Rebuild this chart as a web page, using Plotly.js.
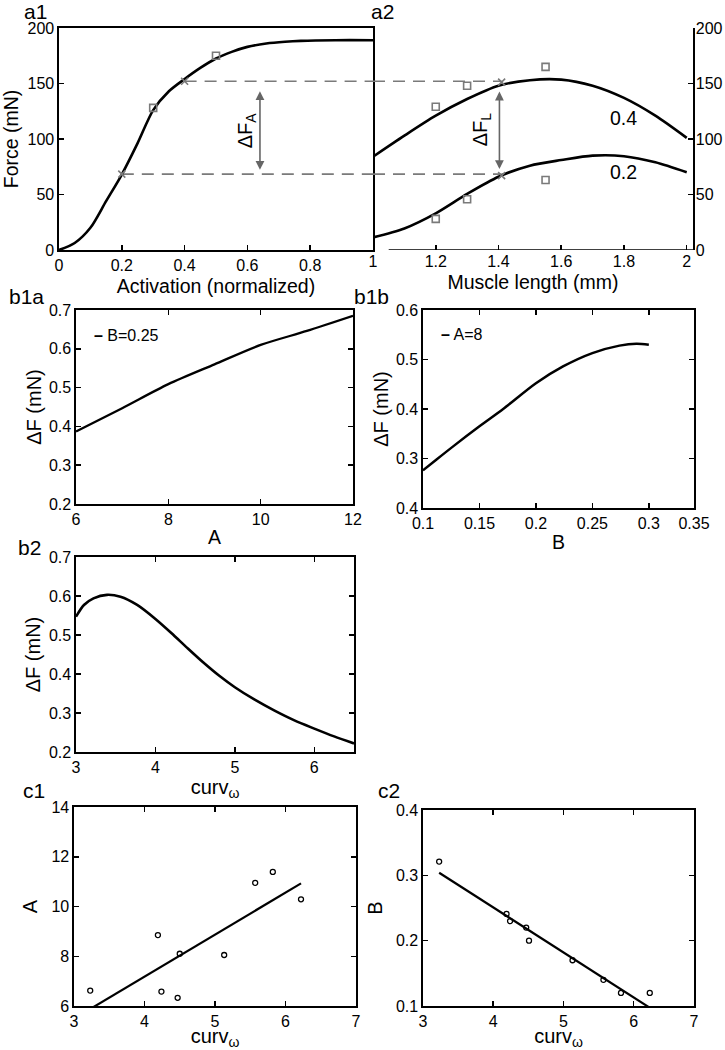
<!DOCTYPE html>
<html>
<head>
<meta charset="utf-8">
<script src="https://cdn.plot.ly/plotly-3.0.1.min.js"></script>
<style>html,body{margin:0;padding:0;background:#fff;}#chart{width:725px;height:1050px;}</style>
</head>
<body>
<div id="chart"></div>
<script>
// ---------- data ----------
// a1: force vs activation
const activation = [0,0.05,0.1,0.15,0.2,0.25,0.3,0.35,0.4,0.45,0.5,0.55,0.6,0.66,0.72,0.77,0.88,1];
const forceAct   = [0,6.3,20,44,68,96,126,143,154,164,172.5,178.5,183,186,187.6,188.4,189,189];
const actSquaresX = [0.3,0.5];
const actSquaresY = [128,175];
const actCrossX = [0.2,0.4];
const actCrossY = [68.4,152];
// a2: force vs muscle length for activation 0.4 and 0.2
const muscleLen = [1.0,1.1,1.2,1.3,1.4,1.5,1.6,1.7,1.8,1.9,2.0];
const force04   = [84,103,121,136,148,153,153.5,148,137,121,101];
const force02   = [11.3,19.4,33,50.5,66,76,81,85,84.5,79,70];
const lenSquaresX = [1.2,1.3,1.55];
const lenSquares04 = [129,148,165];
const lenSquares02 = [28,45.7,63];
const lenCrossX = [1.41,1.41];
const lenCrossY = [67,151.3];
const curveLabels = ['0.4','0.2'];
// b1a: dF vs A (B=0.25)
const paramA = [6,7,8,9,10,11,12];
const dF_A   = [0.387,0.447,0.509,0.56,0.61,0.646,0.685];
// b1b: dF vs B (A=8)
const paramB = [0.1,0.112,0.127,0.15,0.171,0.2,0.224,0.25,0.274,0.289,0.3];
const dF_B   = [0.276,0.298,0.325,0.365,0.40,0.452,0.486,0.513,0.528,0.532,0.530];
const b1bYTicks = [0.2,0.3,0.4,0.5,0.6];
const b1bYText  = ['0.4','0.3','0.4','0.5','0.6'];
const b1bXTicks = [0.1,0.15,0.2,0.25,0.3,0.34];
const b1bXText  = ['0.1','0.15','0.2','0.25','0.3','0.35'];
// b2: dF vs curvature
const curvW   = [3.0,3.1,3.22,3.39,3.56,3.77,4.0,4.2,4.4,4.6,4.8,5.0,5.25,5.5,5.75,6.0,6.25,6.5];
const dF_curv = [0.547,0.577,0.594,0.603,0.598,0.577,0.541,0.505,0.467,0.43,0.396,0.366,0.334,0.306,0.281,0.26,0.24,0.222];
// c1/c2: fitted A and B vs curvature
const curvPts = [3.23,4.19,4.24,4.47,4.50,5.13,5.57,5.82,6.22];
const A_pts   = [6.62,8.85,6.58,6.33,8.1,8.05,10.95,11.39,10.29];
const curvPtsB = [3.23,4.19,4.24,4.47,4.51,5.13,5.57,5.82,6.23];
const B_pts   = [0.321,0.241,0.230,0.220,0.200,0.170,0.140,0.120,0.120];
const fitX = [3.23,6.22];
const fitA = [5.88,10.93];
const fitB = [0.304,0.098];
const c2XTicks = [3,4,5,6,6.86];
const c2XText  = ['3','4','5','6','7'];

// ---------- layout helpers ----------
const W = 725, H = 1050;
const FONT = 'Liberation Sans, Arial, sans-serif';
const GRAY = '#7a7a7a';
function dx(a,b){return [a/W, b/W];}
function dy(t,b){return [1-b/H, 1-t/H];}
function axis(o){
  return Object.assign({
    showline:true, linecolor:'#000', linewidth:1.6,
    ticks:'inside', ticklen:5, tickwidth:1.5, tickcolor:'#000',
    showgrid:false, zeroline:false, fixedrange:true,
    tickfont:{family:FONT,size:16,color:'#000'}
  }, o);
}
function ttl(text, size, standoff){return {text:text, font:{family:FONT,size:size,color:'#000'}, standoff:standoff};}

const line = {color:'#000', width:2.6, shape:'spline', smoothing:0.8};
const dashLine = {color:GRAY,width:1.6,dash:'12px,8px'};
const sqMarker = {symbol:'square-open',size:7,color:GRAY,line:{width:1.6,color:GRAY}};
const xMarker = {symbol:'x-thin-open',size:7,color:GRAY,line:{width:1.6,color:GRAY}};
const circMarker = {symbol:'circle-open',size:5,color:'#000',line:{width:1.3,color:'#000'}};
const traces = [
  // a1
  {x:[actCrossX[0],1], y:[actCrossY[0],actCrossY[0]], xaxis:'x', yaxis:'y', mode:'lines', line:dashLine},
  {x:[actCrossX[1],1], y:[actCrossY[1],actCrossY[1]], xaxis:'x', yaxis:'y', mode:'lines', line:dashLine},
  {x:activation, y:forceAct, xaxis:'x', yaxis:'y', mode:'lines', line:line},
  {x:actSquaresX, y:actSquaresY, xaxis:'x', yaxis:'y', mode:'markers', marker:sqMarker},
  {x:actCrossX, y:actCrossY, xaxis:'x', yaxis:'y', mode:'markers', marker:xMarker},
  // a2
  {x:[1,lenCrossX[0]], y:[actCrossY[0],actCrossY[0]], xaxis:'x2', yaxis:'y2', mode:'lines', line:dashLine},
  {x:[1,lenCrossX[1]], y:[actCrossY[1],actCrossY[1]], xaxis:'x2', yaxis:'y2', mode:'lines', line:dashLine},
  {x:muscleLen, y:force04, xaxis:'x2', yaxis:'y2', mode:'lines', line:line, name:'0.4'},
  {x:muscleLen, y:force02, xaxis:'x2', yaxis:'y2', mode:'lines', line:line, name:'0.2'},
  {x:lenSquaresX.concat(lenSquaresX), y:lenSquares04.concat(lenSquares02), xaxis:'x2', yaxis:'y2', mode:'markers', marker:sqMarker},
  {x:lenCrossX, y:lenCrossY, xaxis:'x2', yaxis:'y2', mode:'markers', marker:xMarker},
  // b1a
  {x:paramA, y:dF_A, xaxis:'x3', yaxis:'y3', mode:'lines', line:{color:'#000',width:2.3,shape:'spline',smoothing:0.8}, name:'B=0.25'},
  // b1b
  {x:paramB, y:dF_B, xaxis:'x4', yaxis:'y4', mode:'lines', line:{color:'#000',width:2.5,shape:'spline',smoothing:0.8}, name:'A=8'},
  // b2
  {x:curvW, y:dF_curv, xaxis:'x5', yaxis:'y5', mode:'lines', line:line},
  // c1
  {x:fitX, y:fitA, xaxis:'x6', yaxis:'y6', mode:'lines', line:{color:'#000',width:2.2}},
  {x:curvPts, y:A_pts, xaxis:'x6', yaxis:'y6', mode:'markers', marker:circMarker},
  // c2
  {x:fitX, y:fitB, xaxis:'x7', yaxis:'y7', mode:'lines', line:{color:'#000',width:2.2}},
  {x:curvPtsB, y:B_pts, xaxis:'x7', yaxis:'y7', mode:'markers', marker:circMarker}
];

function panelLabel(text, px, py){
  return {text:text, xref:'paper', yref:'paper', x:px/W, y:1-py/H, xanchor:'left', yanchor:'middle', showarrow:false, font:{family:FONT,size:21,color:'#000'}};
}
function arrow(xr, yr, x, y0, y1){
  return {xref:xr, yref:yr, axref:xr, ayref:yr, x:x, y:y1, ax:x, ay:y0, text:'', showarrow:true, arrowside:'end+start', arrowhead:2, arrowsize:1.1, arrowwidth:1.6, arrowcolor:'#666', standoff:0, startstandoff:0};
}

const layout = {
  width:W, height:H, margin:{l:0,r:0,t:0,b:0}, showlegend:false,
  paper_bgcolor:'#fff', plot_bgcolor:'rgba(0,0,0,0)',
  font:{family:FONT,color:'#000'},
  // a1
  xaxis: axis({domain:dx(59,373), anchor:'y', range:[0,1], tickvals:[0,0.2,0.4,0.6,0.8], mirror:true, title:ttl('Activation (normalized)',19.5,6)}),
  yaxis: axis({domain:dy(28,250), anchor:'x', range:[0,200], tickvals:[0,50,100,150,200], mirror:true, title:ttl('Force (mN)',19.5,5)}),
  // a2
  xaxis2: axis({domain:dx(373,693), anchor:'y2', range:[1,2.02], tickvals:[1,1.2,1.4,1.6,1.8,2], showline:false, title:ttl('Muscle length (mm)',19.5,6)}),
  yaxis2: axis({domain:dy(28,250), anchor:'x2', side:'right', range:[0,200], tickvals:[0,50,100,150,200], ticklabelstandoff:-2}),
  // b1a
  xaxis3: axis({domain:dx(76,353), anchor:'y3', range:[6,12], tickvals:[6,8,10,12], mirror:'ticks', title:ttl('A',19.5,3)}),
  yaxis3: axis({domain:dy(310,504), anchor:'x3', range:[0.2,0.7], tickvals:[0.2,0.3,0.4,0.5,0.6,0.7], mirror:'ticks', title:ttl('ΔF (mN)',20,2)}),
  // b1b
  xaxis4: axis({domain:dx(423,694), anchor:'y4', range:[0.1,0.34], tickvals:b1bXTicks, ticktext:b1bXText, mirror:'ticks', title:ttl('B',19.5,4)}),
  yaxis4: axis({domain:dy(310,508), anchor:'x4', range:[0.2,0.6], tickvals:b1bYTicks, ticktext:b1bYText, mirror:'ticks', title:ttl('ΔF (mN)',20,2)}),
  // b2
  xaxis5: axis({domain:dx(76,354), anchor:'y5', range:[3,6.5], tickvals:[3,4,5,6], mirror:'ticks', title:ttl('curv<sub>ω</sub>',20,4)}),
  yaxis5: axis({domain:dy(557,752), anchor:'x5', range:[0.2,0.7], tickvals:[0.2,0.3,0.4,0.5,0.6,0.7], mirror:'ticks', title:ttl('ΔF (mN)',20,3)}),
  // c1
  xaxis6: axis({domain:dx(74,356), anchor:'y6', range:[3,7], tickvals:[3,4,5,6,7], mirror:'ticks', title:ttl('curv<sub>ω</sub>',20,5)}),
  yaxis6: axis({domain:dy(807,1006), anchor:'x6', range:[6,14], tickvals:[6,8,10,12,14], mirror:'ticks', title:ttl('A',20,8)}),
  // c2
  xaxis7: axis({domain:dx(423,694), anchor:'y7', range:[3,6.86], tickvals:c2XTicks, ticktext:c2XText, mirror:'ticks', title:ttl('curv<sub>ω</sub>',20,5)}),
  yaxis7: axis({domain:dy(810,1006), anchor:'x7', range:[0.1,0.4], tickvals:[0.1,0.2,0.3,0.4], mirror:'ticks', title:ttl('B',20,8)}),
  shapes:[
    {type:'line', xref:'x2', yref:'y2', x0:1.05, x1:2.02, y0:0, y1:0, line:{color:'#000',width:1.6}}
  ],
  annotations:[
    panelLabel('a1',22,11), panelLabel('a2',369,11),
    panelLabel('b1a',7,296), panelLabel('b1b',352,296),
    panelLabel('b2',16,547), panelLabel('c1',21,790), panelLabel('c2',376,790),
    arrow('x','y',0.64,71,143),
    arrow('x2','y2',1.403,71.6,142.7),
    {xref:'x', yref:'y', x:0.596, y:108, text:'ΔF<sub>A</sub>', textangle:-90, showarrow:false, font:{family:FONT,size:20,color:'#000'}},
    {xref:'x2', yref:'y2', x:1.345, y:109, text:'ΔF<sub>L</sub>', textangle:-90, showarrow:false, font:{family:FONT,size:20,color:'#000'}},
    {xref:'x2', yref:'y2', x:1.80, y:119, text:curveLabels[0], showarrow:false, font:{family:FONT,size:19.5,color:'#000'}},
    {xref:'x2', yref:'y2', x:1.80, y:70, text:curveLabels[1], showarrow:false, font:{family:FONT,size:19.5,color:'#000'}},
    {xref:'paper', yref:'paper', x:92/W, y:1-335/H, xanchor:'left', yanchor:'middle', text:'<b>–</b> B=0.25', showarrow:false, font:{family:FONT,size:16,color:'#000'}},
    {xref:'paper', yref:'paper', x:439/W, y:1-334/H, xanchor:'left', yanchor:'middle', text:'<b>–</b> A=8', showarrow:false, font:{family:FONT,size:16,color:'#000'}}
  ]
};

Plotly.newPlot('chart', traces, layout, {staticPlot:true, displayModeBar:false});
</script>
</body>
</html>
